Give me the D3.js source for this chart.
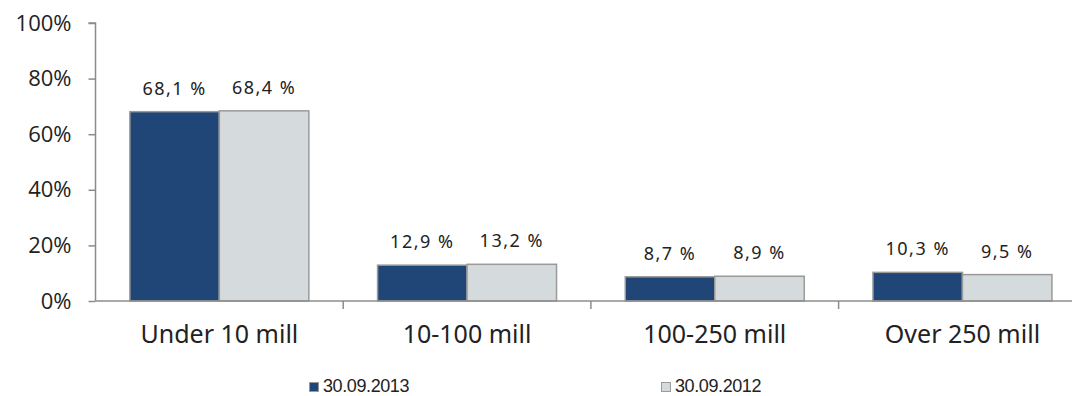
<!DOCTYPE html>
<html>
<head>
<meta charset="utf-8">
<script src="https://cdn.jsdelivr.net/npm/d3@7"></script>
<style>
  html, body { margin: 0; padding: 0; background: #fff; }
  svg { display: block; }
</style>
</head>
<body>
<svg id="chart" width="1072" height="396"></svg>
<script>
// Share of holdings by size bracket, two reporting dates
const categories = ["Under 10 mill", "10-100 mill", "100-250 mill", "Over 250 mill"];
const seriesNames = ["30.09.2013", "30.09.2012"];
const values2013 = [68.1, 12.9, 8.7, 10.3];
const values2012 = [68.4, 13.2, 8.9, 9.5];
const yTicks = [0, 20, 40, 60, 80, 100];

const colors = ["#1f4677", "#d5dadd"];
const strokeColor = "#9a9a9a";
const axisColor = "#8c8c8c";

const svg = d3.select("#chart");
const plotLeft = 95.5, plotTop = 23, plotBottom = 301, bandWidth = 247.7;

const x = d3.scaleBand()
  .domain(categories)
  .range([plotLeft, plotLeft + bandWidth * categories.length])
  .paddingInner(0).paddingOuter(0);

const xInner = d3.scaleBand()
  .domain(seriesNames)
  .range([0, x.bandwidth()])
  .paddingInner(0)
  .paddingOuter(0.384);

const y = d3.scaleLinear().domain([0, 100]).range([plotBottom, plotTop]);

const fmt = v => v.toFixed(1).replace(".", ",") + " %";

// Y axis
const yAxis = d3.axisLeft(y)
  .tickValues(yTicks)
  .tickSize(7)
  .tickPadding(17)
  .tickFormat(d => d + "%");
const gy = svg.append("g").attr("transform", `translate(${plotLeft},0)`).call(yAxis);
gy.select(".domain").attr("stroke", axisColor).attr("stroke-width", 1.5).attr("d", `M-7,${plotTop}H0V${plotBottom}`);
gy.selectAll(".tick line").attr("stroke", axisColor).attr("stroke-width", 1.5);
gy.selectAll(".tick text")
  .attr("fill", "#222")
  .style("font-family", "'Open Sans', 'Noto Sans', sans-serif")
  .style("font-size", "22px");

// Bars
const data = categories.map((c, i) => ({
  cat: c,
  vals: [
    { name: seriesNames[0], v: values2013[i], idx: 0 },
    { name: seriesNames[1], v: values2012[i], idx: 1 }
  ]
}));

const groups = svg.append("g").selectAll("g")
  .data(data).join("g")
  .attr("transform", d => `translate(${x(d.cat)},0)`);

groups.selectAll("rect")
  .data(d => d.vals).join("rect")
  .attr("x", d => xInner(d.name))
  .attr("width", xInner.bandwidth())
  .attr("y", d => y(d.v))
  .attr("height", d => y(0) - y(d.v))
  .attr("fill", d => colors[d.idx])
  .attr("stroke", strokeColor)
  .attr("stroke-width", 1.5);

groups.selectAll("text.val")
  .data(d => d.vals).join("text")
  .attr("class", "val")
  .attr("x", d => xInner(d.name) + xInner.bandwidth() / 2)
  .attr("y", d => y(d.v) - 17)
  .attr("text-anchor", "middle")
  .attr("fill", "#222")
  .style("font-family", "'Noto Sans', sans-serif")
  .style("font-size", "18px")
  .style("letter-spacing", "1.5px")
  .text(d => fmt(d.v));

// X axis
const xAxis = d3.axisBottom(x).tickSize(0);
const gx = svg.append("g").attr("transform", `translate(0,${plotBottom})`).call(xAxis);
gx.select(".domain").attr("stroke", axisColor).attr("stroke-width", 1.5).attr("d", `M${plotLeft},0H1072`);
gx.selectAll(".tick text")
  .attr("fill", "#222")
  .attr("y", 42)
  .attr("dy", null)
  .style("font-family", "'Noto Sans', sans-serif")
  .style("font-size", "25px");
// boundary ticks between categories
gx.append("g").selectAll("line")
  .data(categories.slice(1))
  .join("line")
  .attr("x1", d => x(d)).attr("x2", d => x(d))
  .attr("y1", 0).attr("y2", 8)
  .attr("stroke", axisColor).attr("stroke-width", 1.5);

// Legend
const legendX = [309, 661];
const legend = svg.append("g").selectAll("g")
  .data(seriesNames).join("g")
  .attr("transform", (d, i) => `translate(${legendX[i]},382)`);
legend.append("rect")
  .attr("x", 0.5).attr("y", 0.5)
  .attr("width", 9).attr("height", 9)
  .attr("fill", (d, i) => colors[i])
  .attr("stroke", strokeColor).attr("stroke-width", 1);
legend.append("text")
  .attr("x", 14).attr("y", 10)
  .attr("fill", "#222")
  .style("font-family", "'Liberation Sans', Arial, sans-serif")
  .style("font-size", "18px")
  .style("letter-spacing", "-0.4px")
  .text(d => d);
</script>
</body>
</html>
